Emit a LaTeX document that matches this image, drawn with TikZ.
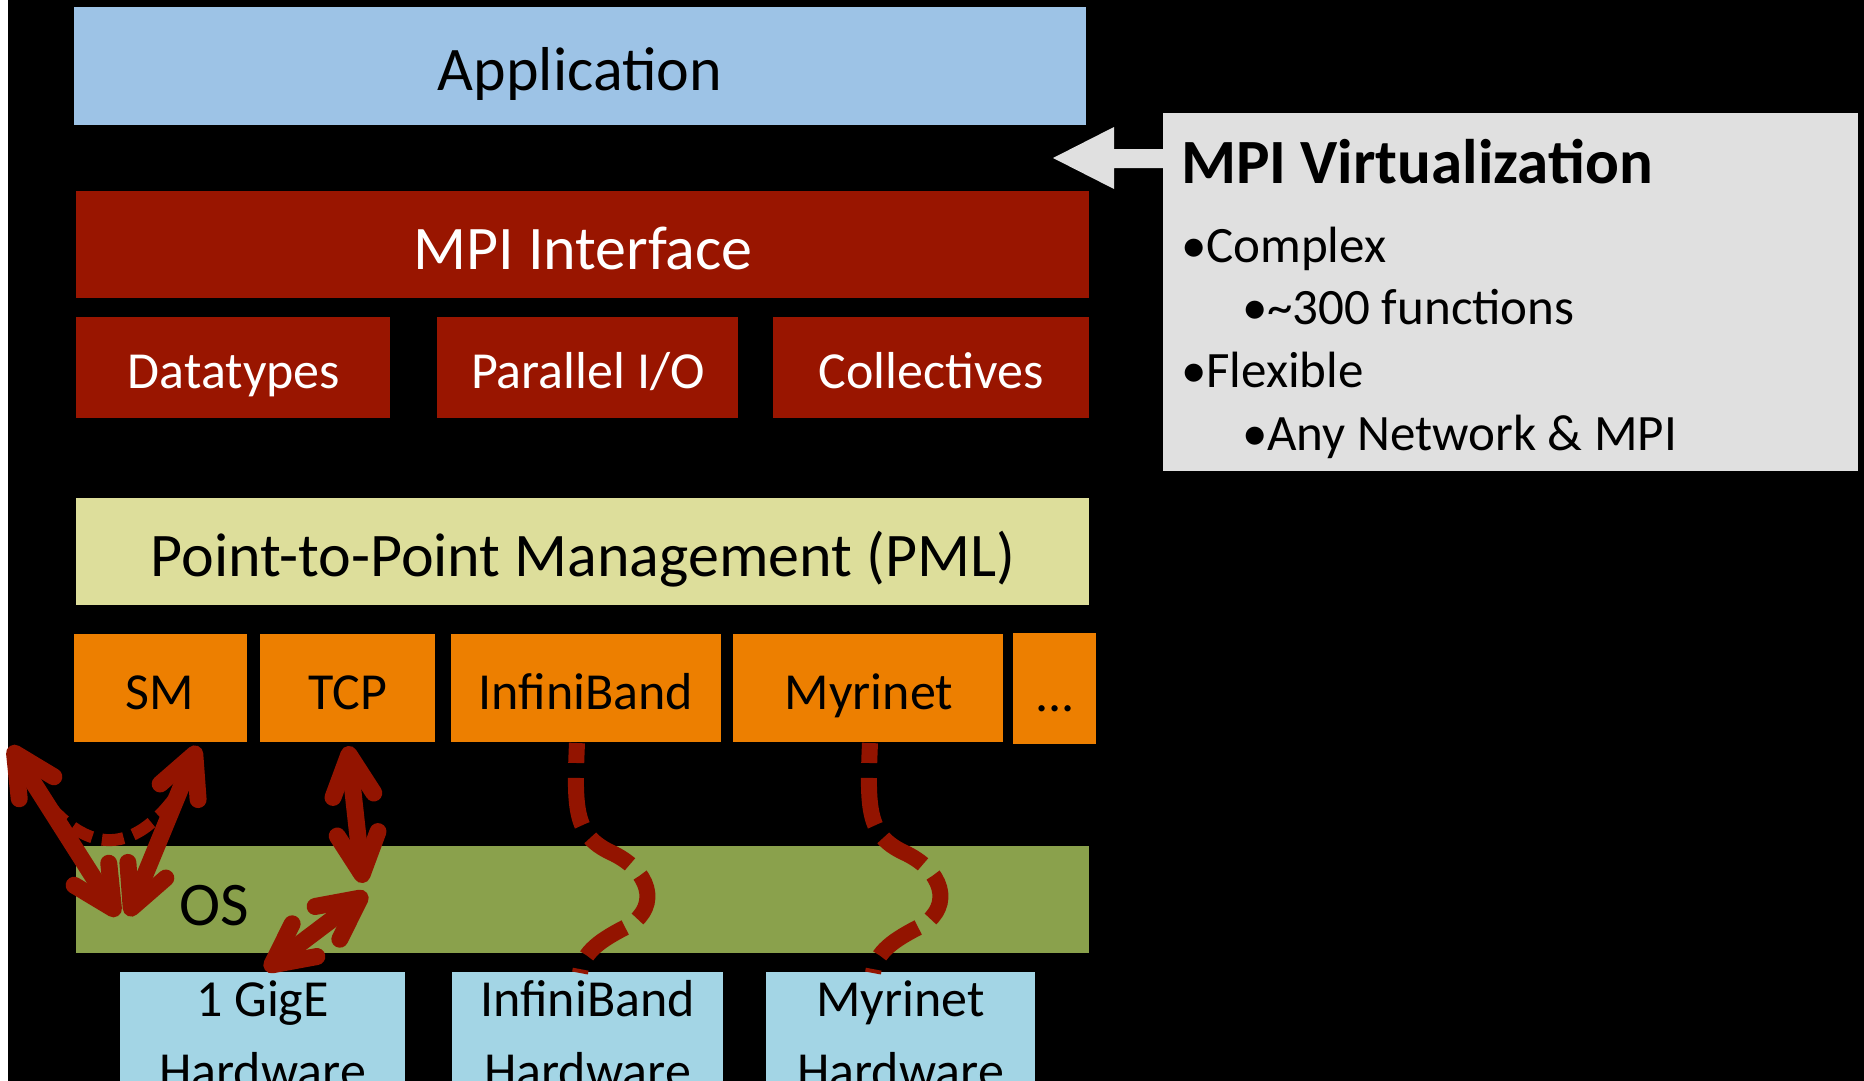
\documentclass[tikz,border=0pt]{standalone}
\usepackage{fontspec}
\setmainfont{Carlito}
\usetikzlibrary{arrows.meta}
\definecolor{appblue}{RGB}{157,195,230}
\definecolor{mpired}{RGB}{153,21,0}
\definecolor{pmlyel}{RGB}{221,222,155}
\definecolor{btlor}{RGB}{237,127,0}
\definecolor{osgreen}{RGB}{138,161,76}
\definecolor{hwblue}{RGB}{163,213,229}
\definecolor{virtgray}{RGB}{224,224,224}
\definecolor{arrred}{RGB}{147,20,0}
\begin{document}
\begin{tikzpicture}[x=1pt,y=-1pt,
  box/.style={draw=none, inner sep=0pt, outer sep=0pt},
  lbl/.style={anchor=base, inner sep=0pt, outer sep=0pt},
  lblw/.style={anchor=base west, inner sep=0pt, outer sep=0pt},
  big/.style={font=\fontsize{62}{74}\selectfont},
  med/.style={font=\fontsize{52}{72}\selectfont},
  bul/.style={font=\fontsize{51}{60}\selectfont},
  dblarrow/.style={line width=17pt, draw=arrred, {Straight Barb[length=41pt,width=41pt,round]}-{Straight Barb[length=41pt,width=41pt,round]}},
  wavy/.style={line width=16pt, draw=arrred, dash pattern=on 48pt off 15pt, dash phase=28pt},
  smdash/.style={line width=12pt, draw=arrred, dash pattern=on 22pt off 10pt}
]
\useasboundingbox (0,0) rectangle (1864,1081);
\clip (0,0) rectangle (1864,1081);
\fill[black] (0,0) rectangle (1864,1081);
\fill[white] (0,0) rectangle (8,1081);

% boxes
\node[box, fill=appblue, minimum width=1012, minimum height=118] (app) at (580,66) {};
\node[box, fill=mpired, minimum width=1013, minimum height=107] (mpi) at (582.5,244.5) {};
\node[box, fill=mpired, minimum width=314, minimum height=101] (dt) at (233,367.5) {};
\node[box, fill=mpired, minimum width=301, minimum height=101] (pio) at (587.5,367.5) {};
\node[box, fill=mpired, minimum width=316, minimum height=101] (coll) at (931,367.5) {};
\node[box, fill=pmlyel, minimum width=1013, minimum height=107] (pml) at (582.5,551.5) {};
\node[box, fill=btlor, minimum width=173, minimum height=108] (sm) at (160.5,688) {};
\node[box, fill=btlor, minimum width=175, minimum height=108] (tcp) at (347.5,688) {};
\node[box, fill=btlor, minimum width=270, minimum height=108] (ib) at (586,688) {};
\node[box, fill=btlor, minimum width=270, minimum height=108] (myr) at (868,688) {};
\node[box, fill=btlor, minimum width=83, minimum height=111] (more) at (1054.5,688.5) {};
\node[box, fill=osgreen, minimum width=1013, minimum height=107] (os) at (582.5,899.5) {};
\node[box, fill=hwblue, minimum width=285, minimum height=128] (gige) at (262.5,1036) {};
\node[box, fill=hwblue, minimum width=271, minimum height=128] (ibhw) at (587.5,1036) {};
\node[box, fill=hwblue, minimum width=269, minimum height=128] (myrhw) at (900.5,1036) {};
\node[box, fill=virtgray, minimum width=695, minimum height=358] (virt) at (1510.5,292) {};

% labels
\node[lbl, big] (appT) at (580,91) {Application};
\node[lbl, big, text=white] (mpiT) at (583,269) {MPI Interface};
\node[lbl, med, text=white] (dtT) at (234,388) {Datatypes};
\node[lbl, med, text=white] (pioT) at (588,388) {Parallel I/O};
\node[lbl, med, text=white] (collT) at (931,388) {Collectives};
\node[lbl, big] (pmlT) at (583,576) {Point-to-Point Management (PML)};
\node[lbl, med] (smT) at (160,709) {SM};
\node[lbl, med] (tcpT) at (348,709) {TCP};
\node[lbl, med] (ibT) at (586,709) {InfiniBand};
\node[lbl, med] (myrT) at (869,709) {Myrinet};
\node[lbl, med] (moreT) at (1055,711) {...};
\node[lblw, big] (osT) at (179,925) {OS};
\node[lbl, med] (gigeT1) at (262.5,1016) {1 GigE};
\node[lbl, med] (gigeT2) at (262.5,1088) {Hardware};
\node[lbl, med] (ibhwT1) at (587.5,1016) {InfiniBand};
\node[lbl, med] (ibhwT2) at (587.5,1088) {Hardware};
\node[lbl, med] (myrhwT1) at (900.5,1016) {Myrinet};
\node[lbl, med] (myrhwT2) at (900.5,1088) {Hardware};

\node[lblw, font=\fontsize{63}{74}\selectfont\bfseries] (virtT) at (1181,183) {MPI Virtualization};
\node[lblw, bul] (b1) at (1181,262) {•Complex};
\node[lblw, bul] (b2) at (1242,324) {•\textasciitilde300 functions};
\node[lblw, bul] (b3) at (1181,387) {•Flexible};
\node[lblw, bul] (b4) at (1242,450) {•Any Network \& MPI};

% block arrow from virtualization box
\fill[virtgray] (1053,158) -- (1114,127) -- (1114,149) -- (virt.north west |- 0,149) -- (virt.north west |- 0,168) -- (1114,168) -- (1114,189) -- cycle;

% connector end points
\coordinate (smA1) at (10,746);
\coordinate (smA2) at (118,916);
\coordinate (smB1) at (198,746);
\coordinate (smB2) at (128,916);
\coordinate (tcp1) at (348,746);
\coordinate (tcp2) at (363,883);
\coordinate (gige1) at (367,893);
\coordinate (gige2) at (265,970);
\coordinate (ib1) at (577,743);
\coordinate (ib2) at (580,973);
\coordinate (myr1) at (870,743);
\coordinate (myr2) at (873,973);

% dashed SM loop
\draw[smdash] (30,780) .. controls (84,861) and (137,860) .. (188,778);

% arrows
\draw[dblarrow] (smA1) -- (smA2);
\draw[dblarrow] (smB1) -- (smB2);
\draw[dblarrow] (tcp1) -- (tcp2);
\draw[dblarrow] (gige1) -- (gige2);

% wavy dashed links
\draw[wavy] (ib1) .. controls (574,810) and (575,835) .. (610,852) .. controls (650,870) and (660,905) .. (630,925) .. controls (600,940) and (583,952) .. (ib2);
\draw[wavy] (myr1) .. controls (867,810) and (868,835) .. (903,852) .. controls (943,870) and (953,905) .. (923,925) .. controls (893,940) and (876,952) .. (myr2);
\end{tikzpicture}
\end{document}
